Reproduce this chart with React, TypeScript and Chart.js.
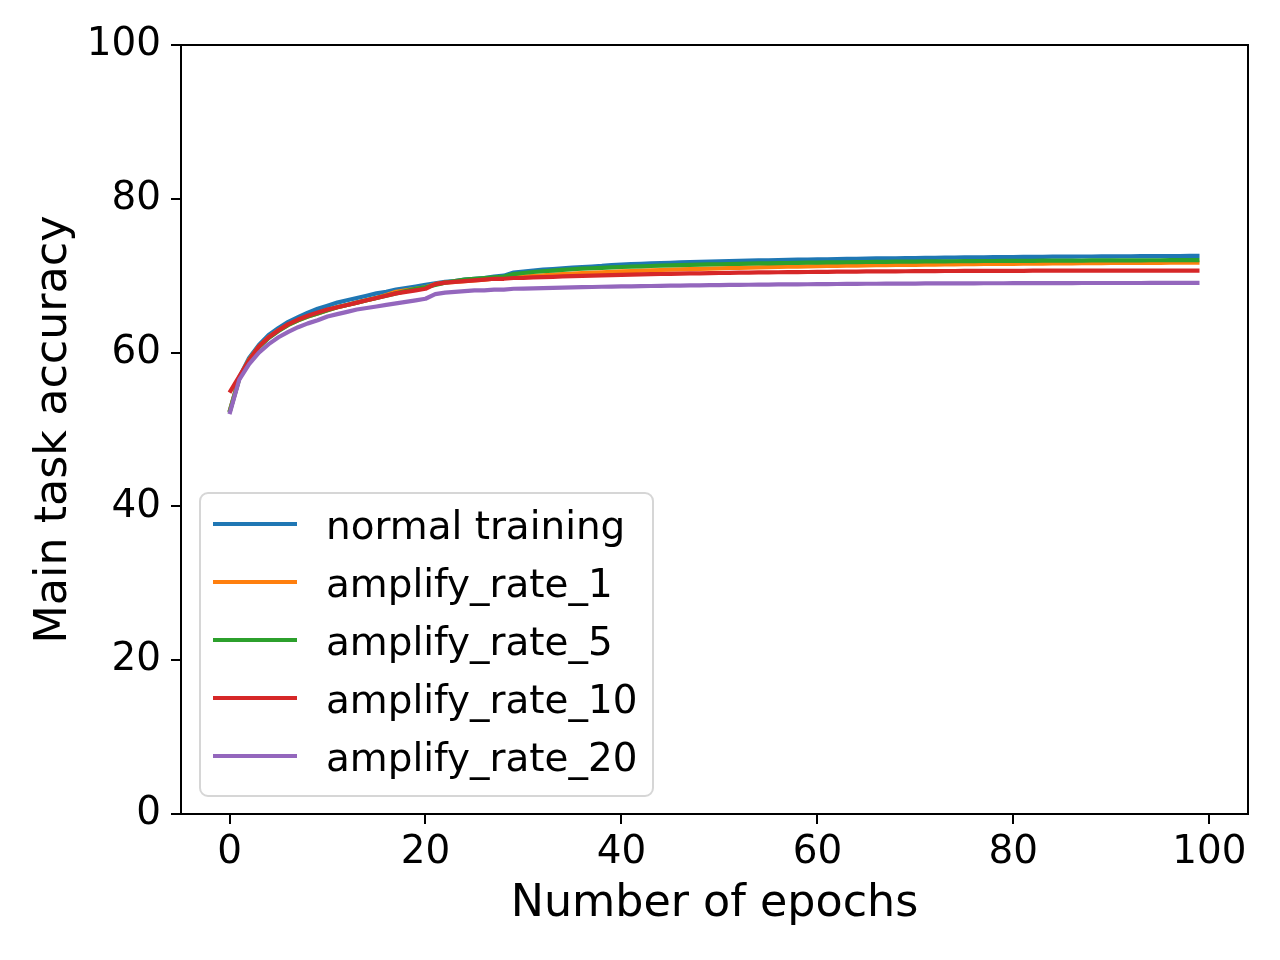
import { useEffect, useRef } from "react";
import { Chart, registerables } from "chart.js";

Chart.register(...registerables);

const FONT = "'DejaVu Sans', sans-serif";

const seriesNames = ["normal training", "amplify_rate_1", "amplify_rate_5", "amplify_rate_10", "amplify_rate_20"];
const seriesColors = ["#1f77b4", "#ff7f0e", "#2ca02c", "#d62728", "#9467bd"];
const xTicks = [0, 20, 40, 60, 80, 100];

// accuracy per epoch (0..99)
const normalTraining = [
  52.3, 56.8, 59.3, 61.0, 62.3, 63.2, 64.0, 64.6, 65.2, 65.7,
  66.1, 66.5, 66.8, 67.1, 67.4, 67.7, 67.9, 68.2, 68.4, 68.6,
  68.8, 69.0, 69.2, 69.3, 69.5, 69.6, 69.7, 69.9, 70.0, 70.4,
  70.55, 70.68, 70.78, 70.87, 70.96, 71.04, 71.12, 71.2, 71.27, 71.38,
  71.45, 71.50, 71.55, 71.60, 71.64, 71.68, 71.72, 71.76, 71.80, 71.83,
  71.86, 71.89, 71.92, 71.95, 71.98, 72.00, 72.03, 72.05, 72.08, 72.10,
  72.12, 72.14, 72.16, 72.18, 72.20, 72.22, 72.24, 72.25, 72.27, 72.29,
  72.30, 72.32, 72.33, 72.35, 72.36, 72.37, 72.39, 72.40, 72.41, 72.42,
  72.43, 72.44, 72.45, 72.46, 72.47, 72.48, 72.49, 72.50, 72.50, 72.51,
  72.52, 72.53, 72.53, 72.54, 72.55, 72.55, 72.56, 72.56, 72.57, 72.57,
];

const rate1 = [
  52.3, 56.7, 59.1, 60.8, 62.0, 62.9, 63.6, 64.2, 64.7, 65.1,
  65.5, 65.9, 66.2, 66.5, 66.8, 67.1, 67.5, 67.9, 68.1, 68.3,
  68.5, 68.9, 69.1, 69.2, 69.3, 69.4, 69.5, 69.6, 69.7, 69.8,
  69.90, 69.98, 70.06, 70.13, 70.20, 70.27, 70.33, 70.39, 70.45, 70.50,
  70.55, 70.60, 70.65, 70.70, 70.74, 70.78, 70.82, 70.86, 70.90, 70.93,
  70.96, 71.00, 71.03, 71.06, 71.09, 71.12, 71.14, 71.17, 71.19, 71.22,
  71.24, 71.26, 71.28, 71.30, 71.32, 71.34, 71.36, 71.38, 71.39, 71.41,
  71.42, 71.44, 71.45, 71.47, 71.48, 71.49, 71.51, 71.52, 71.53, 71.54,
  71.55, 71.56, 71.57, 71.58, 71.59, 71.60, 71.61, 71.62, 71.63, 71.64,
  71.65, 71.65, 71.66, 71.67, 71.68, 71.68, 71.69, 71.70, 71.70, 71.71,
];

const rate5 = [
  52.2, 56.6, 59.0, 60.7, 61.9, 62.8, 63.6, 64.2, 64.7, 65.1,
  65.5, 65.9, 66.2, 66.5, 66.8, 67.1, 67.4, 67.7, 68.0, 68.3,
  68.5, 68.8, 69.1, 69.3, 69.5, 69.6, 69.7, 69.8, 69.9, 70.2,
  70.35, 70.48, 70.58, 70.67, 70.76, 70.84, 70.91, 70.97, 71.03, 71.08,
  71.13, 71.18, 71.22, 71.26, 71.30, 71.34, 71.37, 71.40, 71.43, 71.46,
  71.49, 71.52, 71.54, 71.57, 71.59, 71.61, 71.63, 71.65, 71.67, 71.69,
  71.71, 71.72, 71.74, 71.75, 71.77, 71.78, 71.79, 71.81, 71.82, 71.83,
  71.84, 71.85, 71.86, 71.87, 71.88, 71.89, 71.90, 71.91, 71.91, 71.92,
  71.93, 71.94, 71.94, 71.95, 71.96, 71.96, 71.97, 71.97, 71.98, 71.98,
  71.99, 71.99, 72.00, 72.00, 72.01, 72.01, 72.02, 72.02, 72.03, 72.03,
];

const rate10 = [
  54.8, 56.9, 59.0, 60.8, 62.0, 62.9, 63.7, 64.3, 64.8, 65.2,
  65.6, 65.9, 66.2, 66.5, 66.8, 67.1, 67.4, 67.7, 67.9, 68.1,
  68.3, 68.9, 69.1, 69.2, 69.3, 69.4, 69.5, 69.6, 69.6, 69.7,
  69.72, 69.77, 69.82, 69.86, 69.90, 69.94, 69.98, 70.02, 70.05, 70.08,
  70.11, 70.14, 70.17, 70.20, 70.22, 70.25, 70.27, 70.29, 70.31, 70.33,
  70.35, 70.37, 70.39, 70.40, 70.42, 70.43, 70.45, 70.46, 70.47, 70.48,
  70.50, 70.51, 70.52, 70.53, 70.54, 70.55, 70.56, 70.56, 70.57, 70.58,
  70.59, 70.59, 70.60, 70.61, 70.61, 70.62, 70.62, 70.63, 70.63, 70.64,
  70.64, 70.64, 70.65, 70.65, 70.65, 70.66, 70.66, 70.66, 70.66, 70.66,
  70.67, 70.67, 70.67, 70.67, 70.67, 70.67, 70.67, 70.67, 70.67, 70.67,
];

const rate20 = [
  52.0, 56.5, 58.5, 60.0, 61.1, 62.0, 62.7, 63.3, 63.8, 64.2,
  64.7, 65.0, 65.3, 65.6, 65.8, 66.0, 66.2, 66.4, 66.6, 66.8,
  67.0, 67.6, 67.8, 67.9, 68.0, 68.1, 68.1, 68.2, 68.2, 68.3,
  68.32, 68.36, 68.39, 68.42, 68.45, 68.48, 68.51, 68.53, 68.56, 68.58,
  68.60, 68.62, 68.64, 68.66, 68.68, 68.70, 68.72, 68.74, 68.75, 68.77,
  68.78, 68.80, 68.81, 68.82, 68.84, 68.85, 68.86, 68.87, 68.88, 68.89,
  68.90, 68.91, 68.92, 68.93, 68.94, 68.95, 68.95, 68.96, 68.97, 68.97,
  68.98, 68.99, 68.99, 69.00, 69.00, 69.01, 69.01, 69.02, 69.02, 69.02,
  69.03, 69.03, 69.03, 69.04, 69.04, 69.04, 69.04, 69.05, 69.05, 69.05,
  69.05, 69.05, 69.05, 69.05, 69.06, 69.06, 69.06, 69.06, 69.06, 69.06,
];

const allSeries = [normalTraining, rate1, rate5, rate10, rate20];

// frame on all four sides + matplotlib-style legend inside the axes
const framePlugin = {
  id: "frameAndLegend",
  afterDraw(chart) {
    const { ctx, chartArea } = chart;
    ctx.save();
    ctx.strokeStyle = "#000";
    ctx.lineWidth = 2;
    ctx.strokeRect(chartArea.left, chartArea.top, chartArea.right - chartArea.left, chartArea.bottom - chartArea.top);

    // legend box
    const bx = chartArea.left + 19;
    const bw = 453;
    const bh = 303;
    const by = chartArea.bottom - 18 - bh;
    ctx.globalAlpha = 0.8;
    ctx.fillStyle = "#fff";
    ctx.strokeStyle = "#cccccc";
    ctx.lineWidth = 2;
    ctx.beginPath();
    ctx.roundRect(bx, by, bw, bh, 8);
    ctx.fill();
    ctx.stroke();
    ctx.globalAlpha = 1;

    ctx.font = `38.9px ${FONT}`;
    ctx.textBaseline = "alphabetic";
    ctx.textAlign = "left";
    seriesNames.forEach((name, i) => {
      const ly = by + 31 + i * 58;
      ctx.strokeStyle = seriesColors[i];
      ctx.lineWidth = 4.2;
      ctx.beginPath();
      ctx.moveTo(bx + 13, ly);
      ctx.lineTo(bx + 97, ly);
      ctx.stroke();
      ctx.fillStyle = "#000";
      ctx.fillText(name, bx + 126, ly + 15);
    });
    ctx.restore();
  },
};

export default function App() {
  const canvasRef = useRef(null);

  useEffect(() => {
    document.body.style.margin = "0";
    const chart = new Chart(canvasRef.current.getContext("2d"), {
      type: "line",
      data: {
        datasets: allSeries.map((vals, i) => ({
          label: seriesNames[i],
          data: vals.map((v, e) => ({ x: e, y: v })),
          borderColor: seriesColors[i],
          backgroundColor: seriesColors[i],
          borderWidth: 4.2,
          borderJoinStyle: "round",
          pointRadius: 0,
          tension: 0,
          fill: false,
          order: allSeries.length - i,
        })),
      },
      options: {
        responsive: false,
        animation: false,
        layout: { padding: { left: 0, right: 32, top: 45, bottom: 0 } },
        plugins: {
          legend: { display: false },
          tooltip: { enabled: false },
        },
        scales: {
          x: {
            type: "linear",
            min: -4.95,
            max: 103.95,
            afterBuildTicks: (s) => {
              s.ticks = xTicks.map((v) => ({ value: v }));
            },
            afterFit: (s) => {
              s.height = 146;
            },
            grid: { drawOnChartArea: false, drawTicks: true, tickLength: 10, color: "#000", lineWidth: 2 },
            border: { display: true, color: "#000", width: 2 },
            ticks: { color: "#000", font: { family: FONT, size: 38.9 }, padding: 6, maxRotation: 0 },
            title: {
              display: true,
              text: "Number of epochs",
              color: "#000",
              font: { family: FONT, size: 44.4 },
              padding: { top: 0, bottom: 29 },
            },
          },
          y: {
            min: 0,
            max: 100,
            ticks: { stepSize: 20, color: "#000", font: { family: FONT, size: 38.9 }, padding: 10 },
            afterFit: (s) => {
              s.width = 181;
            },
            grid: { drawOnChartArea: false, drawTicks: true, tickLength: 10, color: "#000", lineWidth: 2 },
            border: { display: true, color: "#000", width: 2 },
            title: {
              display: true,
              text: "Main task accuracy",
              color: "#000",
              font: { family: FONT, size: 44.4 },
              padding: { top: 28, bottom: 0 },
            },
          },
        },
      },
      plugins: [framePlugin],
    });
    return () => chart.destroy();
  }, []);

  return (
    <div style={{ width: 1280, height: 960, background: "#fff" }}>
      <canvas ref={canvasRef} width={1280} height={960} style={{ width: 1280, height: 960 }} />
    </div>
  );
}
